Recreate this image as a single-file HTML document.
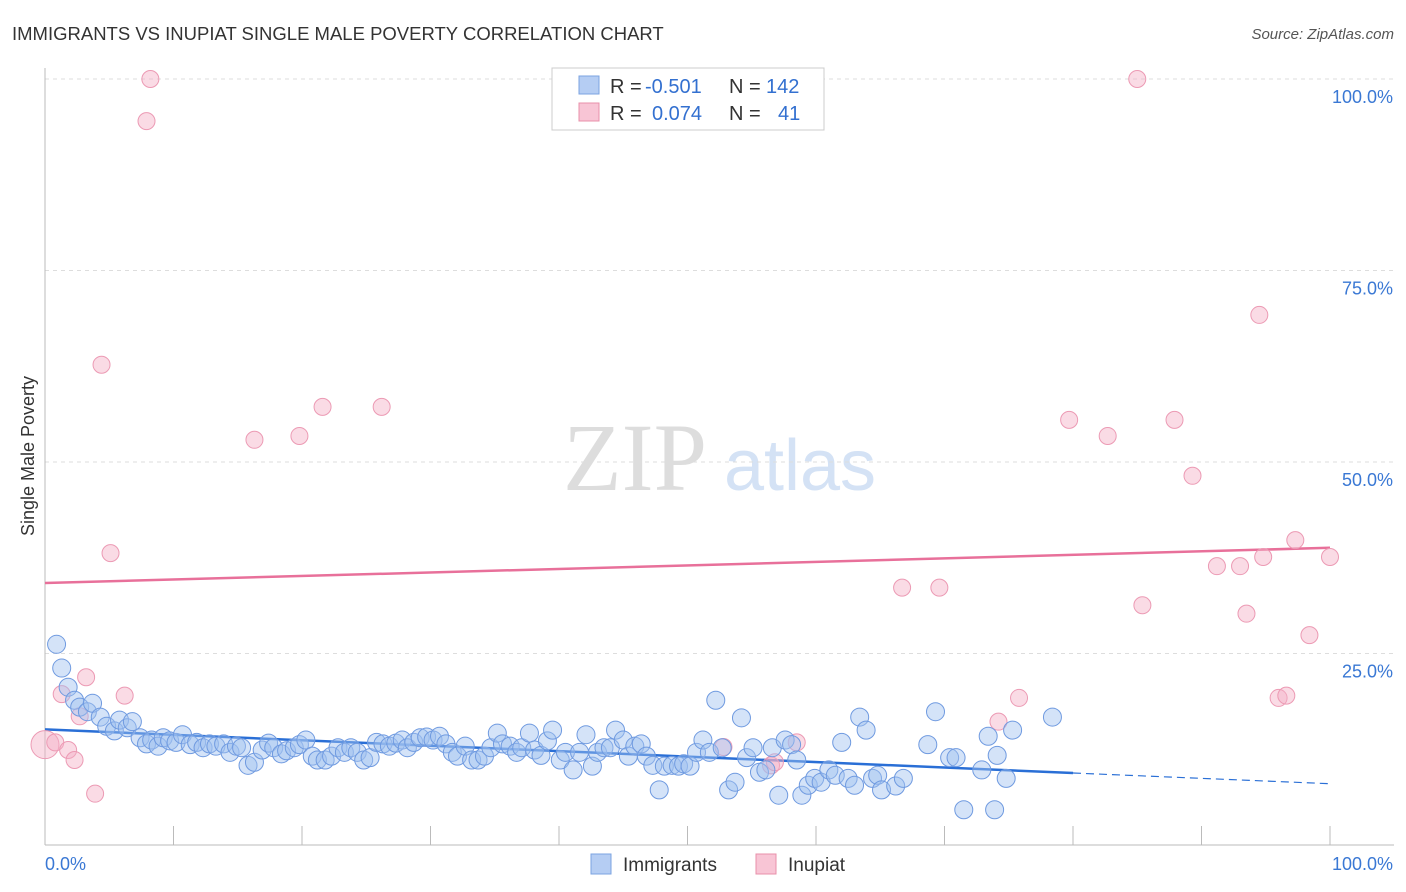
<!DOCTYPE html>
<html><head><meta charset="utf-8"><style>
body{margin:0;background:#fff;font-family:"Liberation Sans",sans-serif;}
svg{display:block}
</style></head><body>
<svg id="chart" width="1406" height="892">
<text x="12" y="40" font-size="18.5" fill="#333">IMMIGRANTS VS INUPIAT SINGLE MALE POVERTY CORRELATION CHART</text>
<text x="1394" y="39" font-size="15" fill="#555" font-style="italic" text-anchor="end">Source: ZipAtlas.com</text>
<text x="635" y="490" font-size="96" fill="#ddd" font-family="Liberation Serif" text-anchor="middle">ZIP</text>
<text x="800" y="490" font-size="72" fill="#d4e2f5" text-anchor="middle">atlas</text>
<text transform="translate(34,456) rotate(-90)" font-size="18" fill="#333" text-anchor="middle">Single Male Poverty</text>
<g id="grid"></g><g id="axes"></g><g id="trend"></g><g id="pts"></g>
<g>
<rect x="552" y="68" width="272" height="62" fill="#fff" stroke="#ccc"/>
<rect x="579" y="76" width="20" height="18" fill="#b5cdf3" stroke="#7ba3e0"/>
<rect x="579" y="103" width="20" height="18" fill="#f8c5d5" stroke="#e890aa"/>
<text x="610" y="93" font-size="20" fill="#333">R =</text>
<text x="645" y="93" font-size="20" fill="#3370d0">-0.501</text>
<text x="729" y="93" font-size="20" fill="#333">N =</text>
<text x="766" y="93" font-size="20" fill="#3370d0">142</text>
<text x="610" y="120" font-size="20" fill="#333">R =</text>
<text x="652" y="120" font-size="20" fill="#3370d0">0.074</text>
<text x="729" y="120" font-size="20" fill="#333">N =</text>
<text x="778" y="120" font-size="20" fill="#3370d0">41</text>
</g>
<g>
<rect x="591" y="854" width="20" height="20" fill="#b5cdf3" stroke="#7ba3e0"/>
<text x="623" y="871" font-size="19" fill="#333">Immigrants</text>
<rect x="756" y="854" width="20" height="20" fill="#f8c5d5" stroke="#e890aa"/>
<text x="788" y="871" font-size="19" fill="#333">Inupiat</text>
</g>
</svg>
<script>
const blueX=[0.9,1.3,1.8,2.3,2.7,3.3,3.7,4.3,4.8,5.4,5.8,6.4,6.8,7.4,7.9,8.3,8.8,9.2,9.7,10.2,10.7,11.3,11.8,12.3,12.8,13.3,13.9,14.4,14.9,15.3,15.8,16.3,16.9,17.4,17.8,18.4,18.8,19.4,19.8,20.3,20.8,21.2,21.8,22.3,22.8,23.3,23.8,24.3,24.8,25.3,25.8,26.3,26.8,27.3,27.8,28.2,28.7,29.2,29.7,30.2,30.7,31.2,31.7,32.1,32.7,33.2,33.7,34.2,34.7,35.2,35.6,36.2,36.7,37.1,37.7,38.1,38.6,39.1,39.5,40.1,40.5,41.1,41.6,42.1,42.6,43.0,43.5,44.0,44.4,45.0,45.4,45.9,46.4,46.8,47.3,47.8,48.2,48.8,49.3,49.7,50.2,50.7,51.2,51.7,52.2,52.7,53.2,53.7,54.2,54.6,55.1,55.6,56.1,56.6,57.1,57.6,58.1,58.5,58.9,59.4,59.9,60.4,61.0,61.5,62.0,62.5,63.0,63.4,63.9,64.4,64.8,65.1,66.2,66.8,68.7,69.3,70.4,70.9,71.5,72.9,73.4,73.9,74.1,74.8,75.3,78.4];
const blueY=[26.2,23.1,20.6,18.9,18.0,17.4,18.5,16.7,15.5,14.9,16.3,15.3,16.1,14.0,13.2,13.7,12.9,14.0,13.6,13.4,14.4,13.1,13.4,12.7,13.2,12.9,13.2,12.1,12.9,12.7,10.4,10.8,12.4,13.3,12.7,11.9,12.3,12.7,13.1,13.7,11.6,11.1,11.1,11.6,12.7,12.1,12.7,12.1,11.1,11.4,13.4,13.2,12.9,13.3,13.7,12.7,13.4,14.0,14.1,13.7,14.2,13.2,12.1,11.6,12.9,11.1,11.1,11.6,12.7,14.6,13.2,12.9,12.1,12.7,14.6,12.4,11.7,13.6,15.0,11.1,12.1,9.8,12.1,14.4,10.3,12.1,12.7,12.7,15.0,13.7,11.6,12.9,13.2,11.6,10.4,7.2,10.3,10.4,10.3,10.6,10.3,12.1,13.7,12.1,18.9,12.7,7.2,8.2,16.6,11.4,12.7,9.5,9.8,12.7,6.5,13.7,13.1,11.1,6.5,7.8,8.7,8.2,9.8,9.1,13.4,8.7,7.8,16.7,15.0,8.7,9.1,7.2,7.7,8.7,13.1,17.4,11.4,11.4,4.6,9.8,14.2,4.6,11.7,8.7,15.0,16.7];
const pinkX=[0,0.8,1.3,1.8,2.3,2.7,3.2,3.9,4.4,5.1,6.2,7.9,8.2,16.3,19.8,21.6,26.2,52.8,56.5,56.8,58.5,66.7,69.6,74.2,75.8,79.7,82.7,85.0,85.4,87.9,89.3,91.2,93.0,93.5,94.5,94.8,96.0,96.6,97.3,98.4,100];
const pinkY=[13.1,13.4,19.7,12.4,11.1,16.8,21.9,6.7,62.7,38.1,19.5,94.5,100,52.9,53.4,57.2,57.2,12.8,10.4,10.8,13.4,33.6,33.6,16.1,19.2,55.5,53.4,100,31.3,55.5,48.2,36.4,36.4,30.2,69.2,37.6,19.2,19.5,39.8,27.4,37.6];
const blueTrend=[15.1,9.4,8.0]; const blueTrendX=[0,80,100];
const pinkTrend=[34.2,38.8]; const pinkTrendX=[0,100];
const yTicks=[25,50,75,100]; const yTickLabels=["25.0%","50.0%","75.0%","100.0%"];
const xTicks=[0,10,20,30,40,50,60,70,80,90,100];
const NS="http://www.w3.org/2000/svg";
const sx=v=>45+v*12.85, sy=v=>845-v*7.66;
function mk(tag,attrs,parent){const e=document.createElementNS(NS,tag);for(const k in attrs)e.setAttribute(k,attrs[k]);document.getElementById(parent).appendChild(e);return e;}
yTicks.forEach((t,i)=>{
 const g=mk('line',{x1:45,x2:1394,y1:sy(t),y2:sy(t),stroke:'#ddd','stroke-dasharray':'4,4'},'grid');
 
 
 const l=mk('text',{x:1393,y:sy(t)+24,'font-size':18,fill:'#3a78d4','text-anchor':'end'},'grid');
 l.textContent=yTickLabels[i];
 
 
});
const ax=mk('line',{x1:45,x2:1394,y1:845,y2:845,stroke:'#bbb'},'axes');


const ay=mk('line',{x1:45,x2:45,y1:68,y2:845,stroke:'#bbb'},'axes');


xTicks.forEach(t=>{
 const k=mk('line',{x1:sx(t),x2:sx(t),y1:826,y2:845,stroke:'#bbb'},'axes');
 
 
});
const xl0=mk('text',{x:45,y:870,'font-size':18,fill:'#3a78d4'},'axes');xl0.textContent='0.0%';


const xl1=mk('text',{x:1393,y:870,'font-size':18,fill:'#3a78d4','text-anchor':'end'},'axes');xl1.textContent='100.0%';


pinkX.forEach((x,i)=>{
 const c=mk('circle',{cx:sx(x),cy:sy(pinkY[i]),r:i===0?14:8.5,fill:'rgba(245,175,198,0.45)',stroke:'#ec9ab4','stroke-width':1},'pts');
 
 
});
blueX.forEach((x,i)=>{
 const c=mk('circle',{cx:sx(x),cy:sy(blueY[i]),r:9,fill:'rgba(160,192,240,0.45)',stroke:'#6f9ae0','stroke-width':1},'pts');
 
 
});
const bt1=mk('line',{x1:sx(blueTrendX[0]),y1:sy(blueTrend[0]),x2:sx(blueTrendX[1]),y2:sy(blueTrend[1]),stroke:'#2a6fd6','stroke-width':2.5},'trend');


const bt2=mk('line',{x1:sx(blueTrendX[1]),y1:sy(blueTrend[1]),x2:sx(blueTrendX[2]),y2:sy(blueTrend[2]),stroke:'#2a6fd6','stroke-width':1.2,'stroke-dasharray':'8,5'},'trend');


const pt=mk('line',{x1:sx(pinkTrendX[0]),y1:sy(pinkTrend[0]),x2:sx(pinkTrendX[1]),y2:sy(pinkTrend[1]),stroke:'#e8709a','stroke-width':2.5},'trend');


</script>
</body></html>
